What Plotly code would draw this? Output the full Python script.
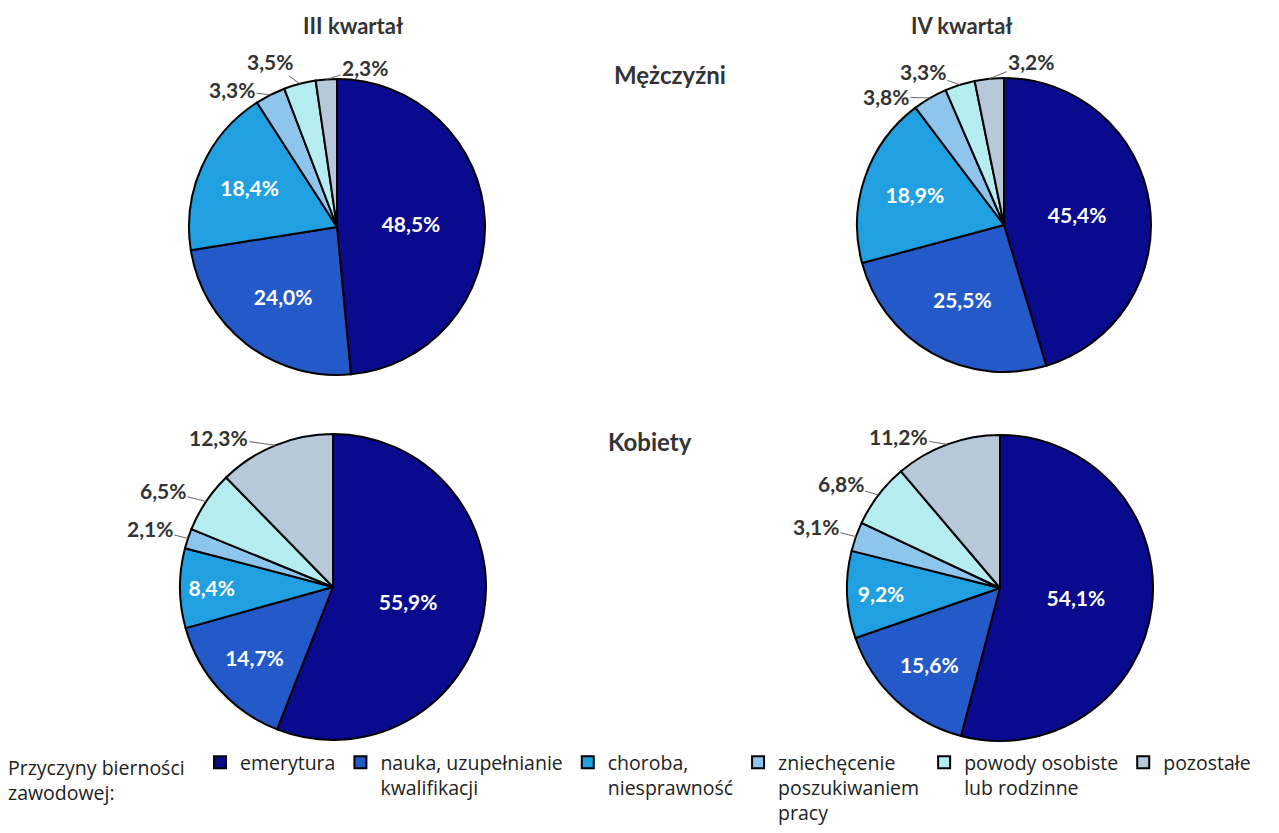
import math
import plotly.graph_objects as go

categories = ["emerytura", "nauka, uzupełnianie<br>kwalifikacji", "choroba,<br>niesprawność",
              "zniechęcenie<br>poszukiwaniem<br>pracy", "powody osobiste<br>lub rodzinne", "pozostałe"]
men_q3 = [48.5, 24.0, 18.4, 3.3, 3.5, 2.3]
men_q4 = [45.4, 25.5, 18.9, 3.8, 3.3, 3.2]
women_q3 = [55.9, 14.7, 8.4, 2.1, 6.5, 12.3]
women_q4 = [54.1, 15.6, 9.2, 3.1, 6.8, 11.2]
colors = ["#0a0a8e", "#2359c8", "#20a0e0", "#8dc5ec", "#b5ecf0", "#b7c9d8"]
positions = ["inside", "inside", "inside", "none", "none", "none"]
legend_title = "Przyczyny bierności<br>zawodowej:"

# the page body has an 8px margin, so the figure is 8px smaller and coordinates are shifted
PAD = 8
W, H = 1279 - PAD, 833 - PAD
FONT = "Lato"
LEG_FONT = "Open Sans"
PCT_SIZE = 21


def px2x(x):
    return (x - PAD) / W


def px2y(y):
    return 1 - (y - PAD) / H


# pie layout: centre x, centre y, radius (px), and pixel offsets of the outside labels
pie_specs = [
    (men_q3, 337, 227, 148, {3: (-38, -5), 4: (-30, -22), 5: (39, -12)}),
    (men_q4, 1004, 225, 147, {3: (-44, -1), 4: (-37, -13), 5: (42, -17)}),
    (women_q3, 333, 587, 153, {3: (-38, -10), 4: (-43, -11), 5: (-57, -8)}),
    (women_q4, 1000, 588, 153, {3: (-40, -10), 4: (-38, -11), 5: (-49, -8)}),
]

fig = go.Figure()
for vals, cx, cy, r, offs in pie_specs:
    d = dict(x=[px2x(cx - r), px2x(cx + r)], y=[px2y(cy + r), px2y(cy - r)])
    fig.add_trace(go.Pie(
        labels=categories, values=vals, domain=d, sort=False, direction="clockwise",
        rotation=0, marker=dict(colors=colors, line=dict(color="black", width=2)),
        texttemplate="%{value:.1f}%", textposition=positions,
        insidetextorientation="horizontal",
        insidetextfont=dict(color="white", size=PCT_SIZE, family=FONT, weight="bold"),
        hoverinfo="label+value", showlegend=True,
    ))
    total = sum(vals)
    cum = 0.0
    for i, v in enumerate(vals):
        mid = cum + v / 2
        cum += v
        if i not in offs:
            continue
        th = 2 * math.pi * mid / total
        px = cx + r * math.sin(th)
        py = cy - r * math.cos(th)
        ax, ay = offs[i]
        fig.add_annotation(
            x=px2x(px), y=px2y(py), xref="paper", yref="paper",
            text=f"{v:.1f}%".replace(".", ","), showarrow=True, ax=ax, ay=ay,
            arrowhead=0, arrowwidth=1, arrowcolor="#666666", standoff=0,
            xanchor="center", yanchor="middle",
            font=dict(color="#333333", size=PCT_SIZE, family=FONT, weight="bold"),
        )

titles = [("III kwartał", 353, 25, 22), ("IV kwartał", 962, 25, 22),
          ("Mężczyźni", 670, 75, 24), ("Kobiety", 650, 442, 24)]
for t, x, y, s in titles:
    fig.add_annotation(text=t, x=px2x(x), y=px2y(y), xref="paper", yref="paper",
                       xanchor="center", yanchor="middle", showarrow=False,
                       font=dict(size=s, family=FONT, color="#333333", weight="bold"))

fig.add_annotation(text=legend_title, x=px2x(6), y=px2y(752), xref="paper", yref="paper",
                   xanchor="left", yanchor="top", align="left", showarrow=False,
                   font=dict(size=19.5, family=LEG_FONT, color="#222222"))

fig.update_layout(
    width=W, height=H, margin=dict(l=0, r=0, t=0, b=0),
    paper_bgcolor="white", separators=", ",
    legend=dict(orientation="h", x=px2x(200), y=0, xanchor="left", yanchor="bottom",
                font=dict(size=19.5, family=LEG_FONT, color="#222222"),
                itemsizing="constant", valign="top", traceorder="normal"),
)

fig.write_html("out.html", config={"displayModeBar": False})
